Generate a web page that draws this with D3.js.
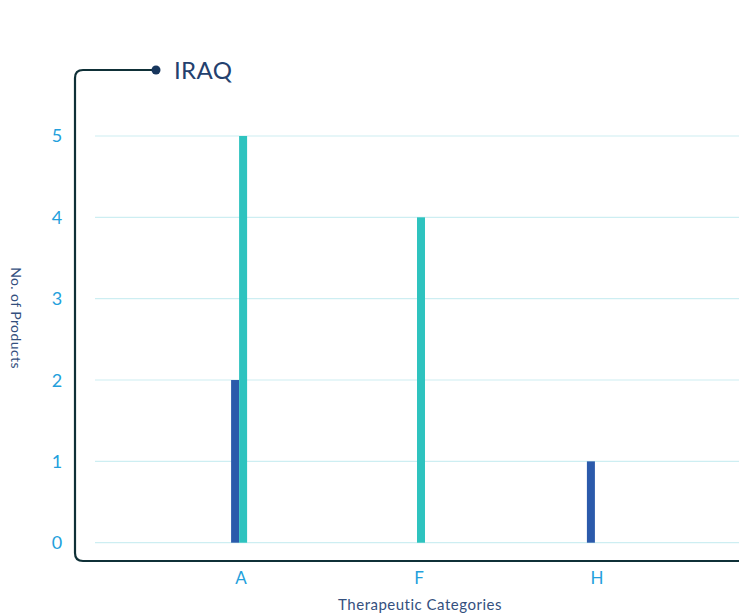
<!DOCTYPE html>
<html><head><meta charset="utf-8">
<script src="https://cdn.jsdelivr.net/npm/d3@7"></script>
<style>body{margin:0;background:#fff;}svg{display:block;}</style>
</head><body>
<svg id="chart" width="739" height="614"></svg>
<script>
const title = "IRAQ";
const categories = ["A", "F", "H"];
const seriesNames = ["Series 1", "Series 2"];
const series1 = [2, 0, 1];
const series2 = [5, 4, 0];
const yTicks = [0, 1, 2, 3, 4, 5];
const xTitle = "Therapeutic Categories";
const yTitle = "No. of Products";
const colors = ["#2b5aab", "#2ec3bf"];

const svg = d3.select("#chart");
const font = "Lato, 'Open Sans', sans-serif";

const x = d3.scaleBand().domain(categories).range([95, 739]).paddingInner(0).paddingOuter(0.31);
const xs = d3.scaleBand().domain(seriesNames).range([-8, 8]);
const y = d3.scaleLinear().domain([0, 5]).range([542.7, 136]);

// gridlines
svg.append("g").selectAll("line").data(yTicks).join("line")
  .attr("x1", 95).attr("x2", 739)
  .attr("y1", d => y(d)).attr("y2", d => y(d))
  .attr("stroke", "#cdeef2").attr("stroke-width", 1.2);

// y tick labels
svg.append("g").selectAll("text").data(yTicks).join("text")
  .attr("x", 57).attr("y", d => y(d)).attr("dy", "0.36em")
  .attr("text-anchor", "middle")
  .attr("font-family", font).attr("font-size", 18)
  .attr("fill", "#239fdc").text(d => d);

// bars
const data = categories.map((c, i) => ({cat: c, vals: [series1[i], series2[i]]}));
const groups = svg.append("g").selectAll("g").data(data).join("g")
  .attr("transform", d => `translate(${x(d.cat) + x.bandwidth() / 2},0)`);
groups.selectAll("rect").data(d => d.vals.map((v, j) => ({v, s: seriesNames[j], j}))).join("rect")
  .filter(d => d.v > 0)
  .attr("x", d => xs(d.s)).attr("width", xs.bandwidth())
  .attr("y", d => y(d.v)).attr("height", d => y(0) - y(d.v))
  .attr("fill", d => colors[d.j]);

// frame
const fLeft = 75, fTop = 70, fBottom = 561, fR = 8;
svg.append("path")
  .attr("d", `M156,${fTop} L${fLeft + fR},${fTop} Q${fLeft},${fTop} ${fLeft},${fTop + fR} L${fLeft},${fBottom - fR} Q${fLeft},${fBottom} ${fLeft + fR},${fBottom} L739,${fBottom}`)
  .attr("fill", "none").attr("stroke", "#0f3037").attr("stroke-width", 2.2);
svg.append("circle").attr("cx", 156).attr("cy", fTop).attr("r", 4.5).attr("fill", "#17365d");

// title
svg.append("text").attr("x", 174).attr("y", 79)
  .attr("font-family", font).attr("font-size", 24)
  .attr("letter-spacing", 0.4)
  .attr("fill", "#23406e").text(title);

// x tick labels
svg.append("g").selectAll("text").data(categories).join("text")
  .attr("x", d => x(d) + x.bandwidth() / 2 + 2).attr("y", 584)
  .attr("text-anchor", "middle")
  .attr("font-family", font).attr("font-size", 17)
  .attr("fill", "#239fdc").text(d => d);

// axis titles
svg.append("text").attr("x", 420).attr("y", 610)
  .attr("text-anchor", "middle")
  .attr("font-family", font).attr("font-size", 15)
  .attr("letter-spacing", 0.5)
  .attr("fill", "#34507e").text(xTitle);

svg.append("text").attr("transform", "translate(11,318) rotate(90)")
  .attr("text-anchor", "middle")
  .attr("font-family", font).attr("font-size", 14)
  .attr("letter-spacing", 0.4)
  .attr("fill", "#34507e").text(yTitle);
</script>
</body></html>
